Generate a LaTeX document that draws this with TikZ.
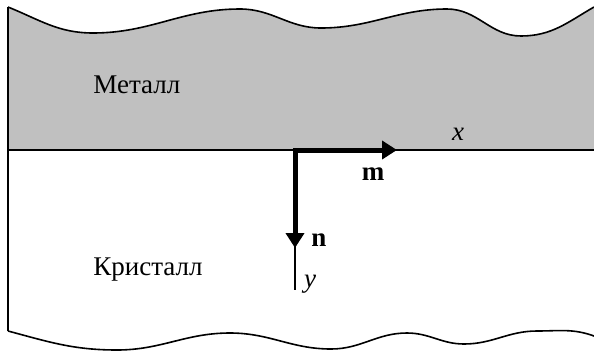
\documentclass[tikz,border=0pt]{standalone}
\usepackage{fontspec}
\setmainfont{Liberation Serif}
\usepackage{tikz}
\usetikzlibrary{arrows.meta}

\begin{document}
\begin{tikzpicture}[x=0.5pt, y=-0.5pt, >={Triangle[length=7.5pt,width=9pt]},
  txt/.style={font=\fontsize{13.5}{16}\selectfont, inner sep=0pt},
  edge/.style={line width=0.8pt, black},
  wave/.style={out=0, in=180},
  vec/.style={line width=2.5pt, ->, line cap=rect},
  axis/.style={line width=1pt}]
  % цвета
  \definecolor{metall}{RGB}{192,192,192}
  \useasboundingbox (0,0) rectangle (594,354);

  % металл (верхняя часть)
  \fill[metall] (8,7) to[out=-22, in=180] (93,33) to[wave] (240,9) to[wave] (321,28)
    to[wave] (447,9) to[wave] (521,36) to[out=0, in=-150] (594,7)
    -- (594,150) -- (8,150) -- cycle;
  \draw[edge] (8,7) to[out=-22, in=180] (93,33) to[wave] (240,9) to[wave] (321,28)
    to[wave] (447,9) to[wave] (521,36) to[out=0, in=-150] (594,7);

  % кристалл (нижняя граница)
  \draw[edge] (8,331) to[out=-15, in=180] (117,350) to[wave] (230,333) to[wave] (331,349)
    to[wave] (407,333) to[wave] (464,344) to[wave] (537,331) to[out=0, in=160] (594,336);
  \draw[edge] (8,7) -- (8,331);
  \draw[edge] (8,150) -- (594,150);

  % оси
  \coordinate (O) at (295,150);
  \coordinate (xend) at (460,150);
  \coordinate (yend) at (295,290);
  \coordinate (mtip) at (397,150);
  \coordinate (ntip) at (295,248);
  \draw[axis] (O) -- (xend);
  \draw[axis] (O) -- (yend);
  \draw[vec] (O) -- (mtip);
  \draw[vec] (O) -- (ntip);

  % подписи
  \node[txt, anchor=base west] (metal) at (93,93) {Металл};
  \node[txt, anchor=base west] (kristall) at (93,275) {Кристалл};
  \node[txt, anchor=base] (lx) at (458,140) {\textit{x}};
  \node[txt, anchor=base] (ly) at (310,287) {\textit{y}};
  \node[txt, anchor=base] (lm) at (373,180) {\textbf{m}};
  \node[txt, anchor=base] (ln) at (319,246) {\textbf{n}};

\end{tikzpicture}
\end{document}
